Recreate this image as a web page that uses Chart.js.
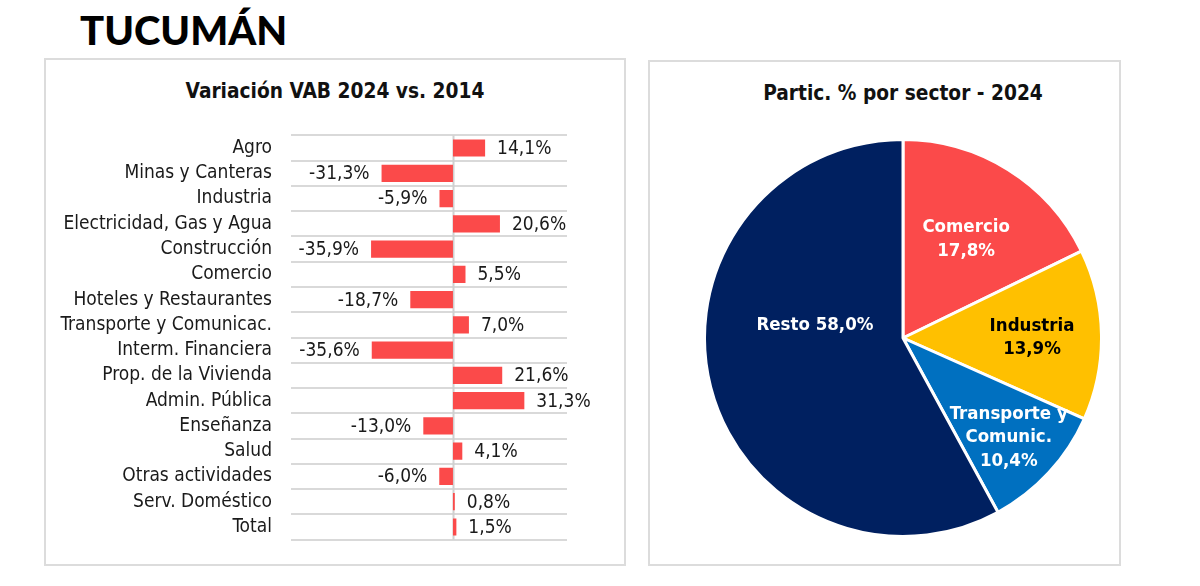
<!DOCTYPE html>
<html>
<head>
<meta charset="utf-8">
<script src="https://cdn.jsdelivr.net/npm/chart.js@4.4.1/dist/chart.umd.min.js"></script>
<style>
  body { margin: 0; width: 1200px; height: 586px; background: #fff; position: relative; overflow: hidden;
         font-family: "DejaVu Sans Condensed", sans-serif; }
  #prov { position: absolute; left: 80px; top: 6px; font: 900 40px Lato, sans-serif; color: #000; }
  .panel { position: absolute; border: 2px solid #dcdcdc; box-sizing: border-box; }
  #p1 { left: 44px; top: 58px; width: 582px; height: 508px; }
  #p2 { left: 648px; top: 60px; width: 473px; height: 506px; }
  .ttl { position: absolute; text-align: center; font-weight: bold; font-size: 20.7px; color: #111; }
  canvas { position: absolute; }
</style>
</head>
<body>
<div id="prov">TUCUMÁN</div>
<div class="panel" id="p1"></div>
<div class="panel" id="p2"></div>
<div class="ttl" style="left:44px;width:582px;top:79px;">Variación VAB 2024 vs. 2014</div>
<div class="ttl" style="left:703px;width:400px;top:81px;">Partic. % por sector - 2024</div>
<canvas id="barras" style="left:46px;top:105px;width:577px;height:465px;"></canvas>
<canvas id="torta" style="left:703px;top:138px;width:400px;height:400px;"></canvas>
<script>
// Datos: variación del VAB por sector (%)
const sectores = ['Agro', 'Minas y Canteras', 'Industria', 'Electricidad, Gas y Agua', 'Construcción',
  'Comercio', 'Hoteles y Restaurantes', 'Transporte y Comunicac.', 'Interm. Financiera',
  'Prop. de la Vivienda', 'Admin. Pública', 'Enseñanza', 'Salud', 'Otras actividades',
  'Serv. Doméstico', 'Total'];
const variaciones = [14.1, -31.3, -5.9, 20.6, -35.9, 5.5, -18.7, 7.0, -35.6, 21.6, 31.3, -13.0, 4.1, -6.0, 0.8, 1.5];

// Datos: participación por sector 2024 (%)
const sectoresTorta = ['Comercio', 'Industria', 'Transporte y Comunic.', 'Resto'];
const participacion = [17.8, 13.9, 10.4, 58.0];
const etiquetasTorta = [['Comercio'], ['Industria'], ['Transporte y', 'Comunic.'], ['Resto']];

const ROJO = '#fb4a4a';
const FUENTE = '"DejaVu Sans Condensed", sans-serif';

function fmt(v) {
  return v.toFixed(1).replace('.', ',') + '%';
}

// Línea del cero y etiquetas de valor para las barras
const etiquetasBarras = {
  id: 'etiquetasBarras',
  beforeDatasetsDraw(chart) {
    const { ctx, chartArea, scales: { x } } = chart;
    const x0 = Math.round(x.getPixelForValue(0)) + 0.5;
    ctx.save();
    ctx.strokeStyle = '#d0d0d0';
    ctx.lineWidth = 2;
    ctx.beginPath();
    ctx.moveTo(x0, chartArea.top);
    ctx.lineTo(x0, chartArea.bottom);
    ctx.stroke();
    ctx.restore();
  },
  afterDatasetsDraw(chart) {
    const { ctx } = chart;
    const meta = chart.getDatasetMeta(0);
    ctx.save();
    ctx.font = '19px ' + FUENTE;
    ctx.fillStyle = '#1a1a1a';
    ctx.textBaseline = 'middle';
    meta.data.forEach((barra, i) => {
      const v = variaciones[i];
      ctx.textAlign = v >= 0 ? 'left' : 'right';
      ctx.fillText(fmt(v), barra.x + (v >= 0 ? 12 : -12), barra.y + 1);
    });
    ctx.restore();
  }
};

new Chart(document.getElementById('barras'), {
  type: 'bar',
  data: {
    labels: sectores,
    datasets: [{
      data: variaciones,
      backgroundColor: ROJO,
      barPercentage: 0.68,
      categoryPercentage: 1
    }]
  },
  options: {
    indexAxis: 'y',
    responsive: false,
    animation: false,
    layout: { padding: { top: 10, bottom: 14, right: 56 } },
    plugins: { legend: { display: false }, tooltip: { enabled: false } },
    scales: {
      x: { display: false, min: -71, max: 50 },
      y: {
        afterFit(scale) { scale.width = 245; },
        border: { display: false },
        grid: { color: '#d9d9d9', lineWidth: 2, drawTicks: false, offset: true },
        ticks: { color: '#1a1a1a', padding: 19, autoSkip: false, font: { family: FUENTE, size: 19 } }
      }
    }
  },
  plugins: [etiquetasBarras]
});

// Etiquetas dentro de la torta
const radioEtiqueta = [0.6, 0.65, 0.725, 0.45];
const giroEtiqueta = [0, 0, 0, 24];
const colorEtiqueta = ['#fff', '#000', '#fff', '#fff'];
const etiquetasPie = {
  id: 'etiquetasPie',
  afterDatasetsDraw(chart) {
    const { ctx } = chart;
    const meta = chart.getDatasetMeta(0);
    ctx.save();
    ctx.textAlign = 'center';
    ctx.textBaseline = 'middle';
    ctx.font = 'bold 18.5px ' + FUENTE;
    meta.data.forEach((arco, i) => {
      const a = (arco.startAngle + arco.endAngle) / 2 + giroEtiqueta[i] * Math.PI / 180;
      const r = arco.outerRadius * radioEtiqueta[i];
      const cx = arco.x + Math.cos(a) * r;
      const cy = arco.y + Math.sin(a) * r + 2;
      let lineas = etiquetasTorta[i].slice();
      if (i === 3) lineas[0] += ' ' + fmt(participacion[i]);
      else lineas.push(fmt(participacion[i]));
      ctx.fillStyle = colorEtiqueta[i];
      const h = 23.5;
      lineas.forEach((t, k) => {
        ctx.fillText(t, cx, cy + (k - (lineas.length - 1) / 2) * h);
      });
    });
    ctx.restore();
  }
};

new Chart(document.getElementById('torta'), {
  type: 'pie',
  data: {
    labels: sectoresTorta,
    datasets: [{
      data: participacion,
      backgroundColor: [ROJO, '#ffc000', '#0070c0', '#002060'],
      borderColor: '#fff',
      borderWidth: 3
    }]
  },
  options: {
    responsive: false,
    animation: false,
    plugins: { legend: { display: false }, tooltip: { enabled: false } }
  },
  plugins: [etiquetasPie]
});
</script>
</body>
</html>
